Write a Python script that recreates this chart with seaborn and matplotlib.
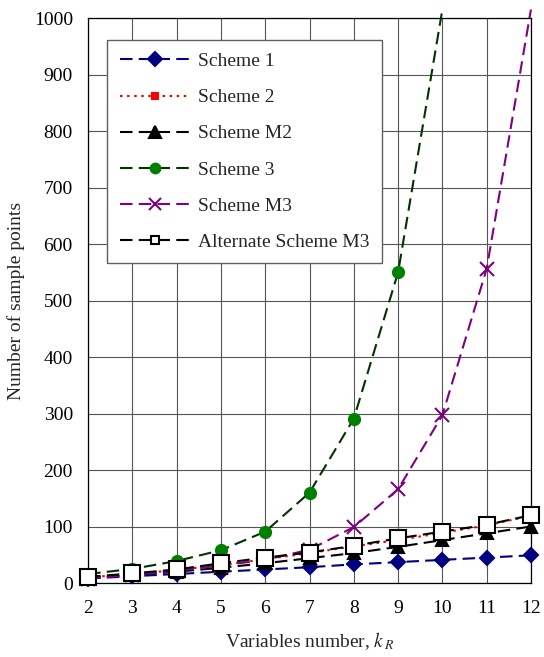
import matplotlib
matplotlib.use("Agg")
import matplotlib.pyplot as plt
from matplotlib.lines import Line2D
import numpy as np
import pandas as pd
import seaborn as sns

# data
k_values = [2, 3, 4, 5, 6, 7, 8, 9, 10, 11, 12]
scheme_1 = [8, 12, 16, 20, 24, 28, 33, 37, 41, 45, 49]
scheme_2 = [10, 16, 23, 32, 42, 53, 65, 76, 89, 102, 119]
scheme_m2 = [9, 14, 20, 27, 35, 44, 53, 64, 76, 88, 100]
scheme_3 = [16, 25, 39, 58, 91, 160, 291, 550, 1015]
scheme_m3 = [8, 14, 22, 31, 41, 59, 99, 166, 297, 556, 1015]
alt_scheme_m3 = [11, 17, 24, 35, 45, 54, 66, 79, 91, 103, 120]

series_names = ["Scheme 1", "Scheme 2", "Scheme M2", "Scheme 3", "Scheme M3",
                "Alternate Scheme M3"]
series_values = [scheme_1, scheme_2, scheme_m2, scheme_3, scheme_m3, alt_scheme_m3]

# style per series: line colour, dashes, marker, plot size, legend size, face, edge
styles = {
    "Scheme 1": dict(lc="#000080", dashes=(6, 3), marker="D", ms=7, lms=7, mfc="#000080", mec="#000080"),
    "Scheme 2": dict(lc="#ff0000", dashes=(1.2, 2.2), marker="s", ms=6, lms=5, mfc="#ff0000", mec="#ff0000"),
    "Scheme M2": dict(lc="#000000", dashes=(6, 3), marker="^", ms=9, lms=8, mfc="#000000", mec="#000000"),
    "Scheme 3": dict(lc="#003300", dashes=(6, 3), marker="o", ms=8, lms=7, mfc="#008000", mec="#008000"),
    "Scheme M3": dict(lc="#800080", dashes=(6, 3), marker="x", ms=10, lms=9, mfc="#800080", mec="#800080"),
    "Alternate Scheme M3": dict(lc="#000000", dashes=(6, 3), marker="s", ms=11, lms=6, mfc="white", mec="#000000"),
}

sns.set_style("white")
plt.rcParams["font.family"] = ["Liberation Serif", "DejaVu Serif"]
plt.rcParams["mathtext.fontset"] = "stix"

fig = plt.figure(figsize=(5.44, 6.57), dpi=100)
ax = fig.add_axes([0.162, 0.1126, 0.814, 0.86])

ymax = 1000
handles = []
for name, vals in zip(series_names, series_values):
    st = styles[name]
    df = pd.DataFrame({"k": k_values[:len(vals)], "n": vals})
    sns.lineplot(data=df, x="k", y="n", ax=ax, color=st["lc"], linewidth=1.5,
                 legend=False, clip_on=False, zorder=3)
    ax.lines[-1].set_dashes(st["dashes"])
    inside = df[df["n"] <= ymax]
    ax.plot(inside["k"], inside["n"], linestyle="none", marker=st["marker"],
            markersize=st["ms"], markerfacecolor=st["mfc"], markeredgecolor=st["mec"],
            markeredgewidth=1.5, clip_on=False, zorder=4)
    handles.append(Line2D([0], [0], color=st["lc"], linewidth=1.5, dashes=st["dashes"],
                          marker=st["marker"], markersize=st["lms"],
                          markerfacecolor=st["mfc"], markeredgecolor=st["mec"],
                          markeredgewidth=1.5, label=name))

ax.set_xlim(2, 12)
ax.set_ylim(0, ymax)
ax.set_xticks(k_values)
ax.set_yticks(np.arange(0, 1001, 100))
ax.grid(True, color="#555555", linewidth=0.8)
ax.set_axisbelow(True)
for sp in ax.spines.values():
    sp.set_color("black")
    sp.set_linewidth(0.9)
ax.tick_params(axis="both", length=0, labelsize=14, colors="black")
ax.tick_params(axis="x", pad=12)
ax.tick_params(axis="y", pad=11)

ax.set_xlabel(r"Variables number, $k_{\,R}$", fontsize=14, labelpad=10)
ax.set_ylabel("Number of sample points", fontsize=14, labelpad=6)

leg = ax.legend(handles=handles, loc="upper left", bbox_to_anchor=(0.043, 0.961),
                borderaxespad=0, fontsize=14, handlelength=3.6, handletextpad=0.4,
                labelspacing=0.95, borderpad=0.65, fancybox=False, framealpha=1,
                edgecolor="#606060", numpoints=1)
leg.get_frame().set_linewidth(1.0)
leg.set_zorder(5)

fig.savefig("out.png", dpi=100)
